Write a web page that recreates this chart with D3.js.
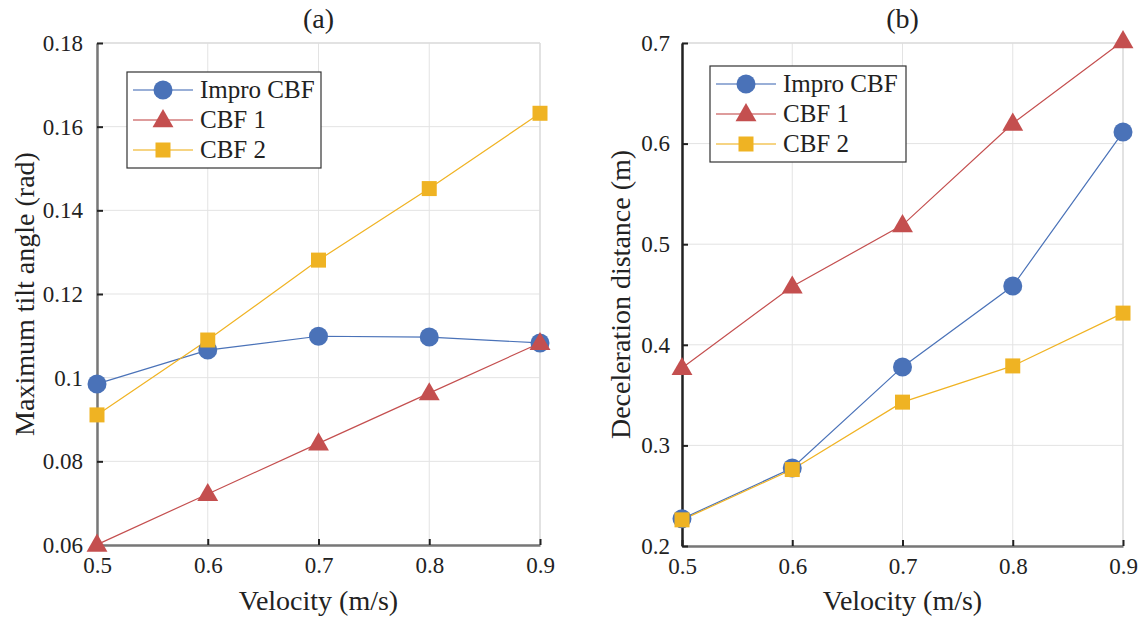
<!DOCTYPE html>
<html>
<head>
<meta charset="utf-8">
<script src="https://cdn.jsdelivr.net/npm/d3@7"></script>
<style>
  body { margin: 0; background: #fff; }
</style>
</head>
<body>
<svg id="chart" width="1143" height="621"></svg>
<script>
// velocities shared by both panels
const velocity = [0.5, 0.6, 0.7, 0.8, 0.9];
const seriesNames = ["Impro CBF", "CBF 1", "CBF 2"];

// (a) maximum tilt angle (rad)
const tiltImpro = [0.0985, 0.1066, 0.1099, 0.1097, 0.1083];
const tiltCbf1 = [0.0601, 0.0722, 0.0843, 0.0963, 0.1083];
const tiltCbf2 = [0.0911, 0.109, 0.1281, 0.1452, 0.1632];

// (b) deceleration distance (m)
const distImpro = [0.227, 0.2775, 0.378, 0.4585, 0.6115];
const distCbf1 = [0.377, 0.458, 0.519, 0.62, 0.702];
const distCbf2 = [0.226, 0.276, 0.343, 0.379, 0.4315];

const xTicks = [0.5, 0.6, 0.7, 0.8, 0.9];
const tiltTicks = [0.06, 0.08, 0.1, 0.12, 0.14, 0.16, 0.18];
const distTicks = [0.2, 0.3, 0.4, 0.5, 0.6, 0.7];

const colors = ["#4a72b8", "#c44f4f", "#efb323"];
const lineColors = ["#4a72b8", "#c44f4f", "#f0b323"];
const shapes = ["circle", "triangle", "square"];
const FONT = "Liberation Serif";

const svg = d3.select("#chart");

function marker(g, shape, color, cx, cy) {
  if (shape === "circle") {
    g.append("circle").attr("cx", cx).attr("cy", cy).attr("r", 9.5).attr("fill", color);
  } else if (shape === "triangle") {
    const s = 11;
    g.append("path")
      .attr("d", `M${cx},${cy - s} L${cx + s * 0.95},${cy + s * 0.65} L${cx - s * 0.95},${cy + s * 0.65} Z`)
      .attr("fill", color);
  } else {
    g.append("rect").attr("x", cx - 7.5).attr("y", cy - 7.5)
      .attr("width", 15).attr("height", 15).attr("fill", color);
  }
}

function panel(opts) {
  const x = d3.scaleLinear().domain([0.5, 0.9]).range([opts.left, opts.right]);
  const y = d3.scaleLinear().domain(opts.yDomain).range([opts.bottom, opts.top]);
  const g = svg.append("g");

  // grid
  g.selectAll(".gx").data(xTicks).enter().append("line")
    .attr("x1", d => x(d)).attr("x2", d => x(d))
    .attr("y1", opts.top).attr("y2", opts.bottom)
    .attr("stroke", "#e3e3e3").attr("stroke-width", 1);
  g.selectAll(".gy").data(opts.yTicks).enter().append("line")
    .attr("x1", opts.left).attr("x2", opts.right)
    .attr("y1", d => y(d)).attr("y2", d => y(d))
    .attr("stroke", "#e3e3e3").attr("stroke-width", 1);

  // top/right box edges (light)
  g.append("line").attr("x1", opts.left).attr("x2", opts.right)
    .attr("y1", opts.top).attr("y2", opts.top).attr("stroke", "#dcdcdc").attr("stroke-width", 1.5);
  g.append("line").attr("x1", opts.right).attr("x2", opts.right)
    .attr("y1", opts.top).attr("y2", opts.bottom).attr("stroke", "#dcdcdc").attr("stroke-width", 1.5);

  // axes
  const xAxis = g.append("g").attr("transform", `translate(0,${opts.bottom})`)
    .call(d3.axisBottom(x).tickValues(xTicks).tickFormat(d3.format("")).tickSizeInner(-6).tickSizeOuter(0).tickPadding(12));
  const yAxis = g.append("g").attr("transform", `translate(${opts.left},0)`)
    .call(d3.axisLeft(y).tickValues(opts.yTicks).tickFormat(d => String(+d.toFixed(2))).tickSizeInner(-6).tickSizeOuter(0).tickPadding(opts.yPad));
  [xAxis, yAxis].forEach(a => {
    a.attr("font-family", FONT).attr("font-size", 23);
    a.select(".domain").attr("stroke", opts.axisColor).attr("stroke-width", 2.5);
    a.selectAll(".tick line").attr("stroke", "#222").attr("stroke-width", 2);
    a.selectAll(".tick text").attr("fill", "#222");
  });
  xAxis.select(".domain").attr("stroke", "#777");

  // lines and markers
  opts.series.forEach((vals, i) => {
    const line = d3.line().x((d, j) => x(velocity[j])).y(d => y(d));
    g.append("path").datum(vals).attr("d", line)
      .attr("fill", "none").attr("stroke", lineColors[i]).attr("stroke-width", 1.2);
  });
  opts.series.forEach((vals, i) => {
    vals.forEach((v, j) => marker(g, shapes[i], colors[i], x(velocity[j]), y(v)));
  });

  // labels
  const txt = sel => sel.attr("font-family", FONT).attr("fill", "#222");
  g.append("text").call(txt).attr("x", (opts.left + opts.right) / 2).attr("y", 28)
    .attr("text-anchor", "middle").attr("font-size", 28).text(opts.title);
  g.append("text").call(txt).attr("x", (opts.left + opts.right) / 2).attr("y", 610)
    .attr("text-anchor", "middle").attr("font-size", 28).text("Velocity (m/s)");
  g.append("text").call(txt)
    .attr("transform", `translate(${opts.yLabX},${(opts.top + opts.bottom) / 2}) rotate(-90)`)
    .attr("text-anchor", "middle").attr("font-size", 28).text(opts.yLabel);

  // legend
  const lg = g.append("g").attr("transform", `translate(${opts.legX},${opts.legY})`);
  lg.append("rect").attr("width", opts.legW).attr("height", 96)
    .attr("fill", "#fff").attr("stroke", "#333").attr("stroke-width", 1.2);
  seriesNames.forEach((name, i) => {
    const cy = 18 + i * 30;
    lg.append("line").attr("x1", 6).attr("x2", 66).attr("y1", cy).attr("y2", cy)
      .attr("stroke", lineColors[i]).attr("stroke-width", 1.5).attr("opacity", 0.75);
    marker(lg, shapes[i], colors[i], 36, cy);
    lg.append("text").call(txt).attr("x", 73).attr("y", cy + 8).attr("font-size", 25).text(name);
  });
}

panel({
  left: 97, right: 540, top: 43, bottom: 545,
  yDomain: [0.06, 0.18], yTicks: tiltTicks, yPad: 14, yLabX: 34,
  series: [tiltImpro, tiltCbf1, tiltCbf2],
  title: "(a)", yLabel: "Maximum tilt angle (rad)",
  legX: 127, legY: 72, legW: 194, axisColor: "#777"
});

panel({
  left: 682, right: 1123, top: 43, bottom: 546,
  yDomain: [0.2, 0.7], yTicks: distTicks, yPad: 12, yLabX: 630,
  series: [distImpro, distCbf1, distCbf2],
  title: "(b)", yLabel: "Deceleration distance (m)",
  legX: 710, legY: 66, legW: 196, axisColor: "#222"
});
</script>
</body>
</html>
